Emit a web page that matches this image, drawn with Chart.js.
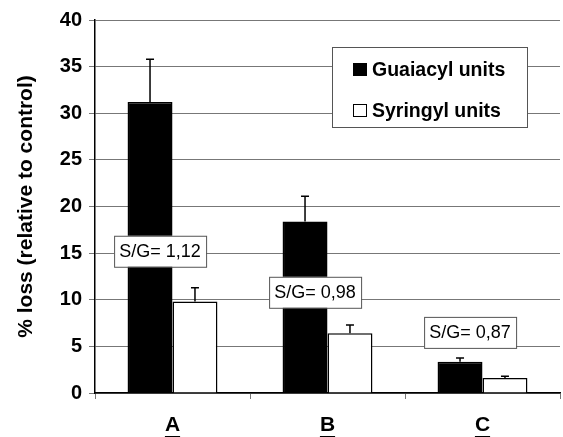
<!DOCTYPE html>
<html>
<head>
<meta charset="utf-8">
<script src="https://cdn.jsdelivr.net/npm/chart.js@4.4.1/dist/chart.umd.min.js"></script>
<style>
  html, body { margin: 0; padding: 0; background: #fff; }
  canvas { display: block; }
</style>
</head>
<body>
<canvas id="lossChart" width="563" height="437"></canvas>
<script>
// values
const categories = ['A', 'B', 'C'];
const guaiacyl = [31.2, 18.4, 3.35];
const syringyl = [9.8, 6.4, 1.6];
const guaiacylErr = [4.6, 2.7, 0.4];
const syringylErr = [1.5, 0.9, 0.2];
const yTicks = [0, 5, 10, 15, 20, 25, 30, 35, 40];
const ratioLabels = ['S/G= 1,12', 'S/G= 0,98', 'S/G= 0,87'];
const ratioY = [15.2, 10.8, 6.5];

const FONT = '"Liberation Sans", Arial, sans-serif';

// upward error bars on every bar
const errorBars = {
    id: 'errorBars',
    afterDatasetsDraw(chart) {
        const ctx = chart.ctx;
        const yScale = chart.scales.y;
        const errs = [guaiacylErr, syringylErr];
        ctx.save();
        ctx.strokeStyle = '#000';
        ctx.lineWidth = 1.5;
        chart.data.datasets.forEach((ds, i) => {
            const meta = chart.getDatasetMeta(i);
            meta.data.forEach((bar, j) => {
                const top = yScale.getPixelForValue(ds.data[j] + errs[i][j]);
                ctx.beginPath();
                ctx.moveTo(bar.x, bar.y);
                ctx.lineTo(bar.x, top);
                ctx.moveTo(bar.x - 4, top);
                ctx.lineTo(bar.x + 4, top);
                ctx.stroke();
            });
        });
        ctx.restore();
    }
};

// S/G ratio boxes, the boxed legend and underlined category labels
const decorations = {
    id: 'decorations',
    afterDraw(chart) {
        const ctx = chart.ctx;
        const x = chart.scales.x;
        const y = chart.scales.y;
        const area = chart.chartArea;
        ctx.save();

        // ratio boxes
        ctx.font = '18px ' + FONT;
        ctx.textBaseline = 'middle';
        ctx.textAlign = 'center';
        ratioLabels.forEach((txt, i) => {
            const cx = x.getPixelForValue(i - 0.08);
            const cy = y.getPixelForValue(ratioY[i]);
            const w = 92, h = 31;
            ctx.fillStyle = '#fff';
            ctx.fillRect(cx - w / 2, cy - h / 2, w, h);
            ctx.strokeStyle = '#555';
            ctx.lineWidth = 1;
            ctx.strokeRect(cx - w / 2 + 0.5, cy - h / 2 + 0.5, w, h);
            ctx.fillStyle = '#000';
            ctx.fillText(txt, cx, cy + 1);
        });

        // legend box
        const lx = area.right - 228, ly = area.top + 27, lw = 195, lh = 80;
        ctx.fillStyle = '#fff';
        ctx.fillRect(lx, ly, lw, lh);
        ctx.strokeStyle = '#555';
        ctx.strokeRect(lx + 0.5, ly + 0.5, lw, lh);
        ctx.font = 'bold 19.5px ' + FONT;
        ctx.textAlign = 'left';
        chart.data.datasets.forEach((ds, i) => {
            const ry = ly + 23 + i * 41;
            ctx.fillStyle = ds.backgroundColor;
            ctx.fillRect(lx + 21, ry - 7, 14, 13);
            ctx.strokeStyle = '#000';
            ctx.lineWidth = 1;
            ctx.strokeRect(lx + 21.5, ry - 6.5, 13, 12);
            ctx.fillStyle = '#000';
            ctx.fillText(ds.label, lx + 40, ry + 1);
        });

        // underline category labels
        ctx.font = 'bold 21px ' + FONT;
        ctx.lineWidth = 2;
        ctx.strokeStyle = '#000';
        categories.forEach((c, i) => {
            const px = x.getPixelForValue(i);
            const w = ctx.measureText(c).width;
            const uy = area.bottom + 44;
            ctx.beginPath();
            ctx.moveTo(px - w / 2, uy);
            ctx.lineTo(px + w / 2, uy);
            ctx.stroke();
        });
        ctx.restore();
    }
};

new Chart(document.getElementById('lossChart'), {
    type: 'bar',
    data: {
        labels: categories,
        datasets: [
            {
                label: 'Guaiacyl units',
                data: guaiacyl,
                backgroundColor: '#000',
                borderColor: '#000',
                borderWidth: 1.5
            },
            {
                label: 'Syringyl units',
                data: syringyl,
                backgroundColor: '#fff',
                borderColor: '#000',
                borderWidth: 1.5
            }
        ]
    },
    options: {
        responsive: false,
        animation: false,
        layout: { padding: { top: 20, right: 3, left: 0, bottom: 0 } },
        datasets: {
            bar: { categoryPercentage: 0.58, barPercentage: 1.0 }
        },
        plugins: {
            legend: { display: false },
            tooltip: { enabled: false }
        },
        scales: {
            x: {
                afterFit(scale) { scale.height = 44; },
                grid: {
                    offset: true,
                    drawOnChartArea: false,
                    tickLength: 6,
                    color: '#777'
                },
                border: { color: '#000', width: 1.5 },
                ticks: {
                    padding: 14,
                    color: '#000',
                    font: { family: FONT, size: 21, weight: 'bold' }
                }
            },
            y: {
                min: 0,
                max: 40,
                afterFit(scale) { scale.width = 95; },
                afterBuildTicks(scale) {
                    scale.ticks = yTicks.map(v => ({ value: v }));
                },
                grid: {
                    color: '#777',
                    lineWidth: 1,
                    tickLength: 6
                },
                border: { color: '#000', width: 1.5 },
                ticks: {
                    padding: 7,
                    color: '#000',
                    font: { family: FONT, size: 20, weight: 'bold' }
                },
                title: {
                    display: true,
                    text: '% loss (relative to control)',
                    color: '#000',
                    padding: { top: 14, bottom: 0 },
                    font: { family: FONT, size: 21, weight: 'bold' }
                }
            }
        }
    },
    plugins: [errorBars, decorations]
});
</script>
</body>
</html>
